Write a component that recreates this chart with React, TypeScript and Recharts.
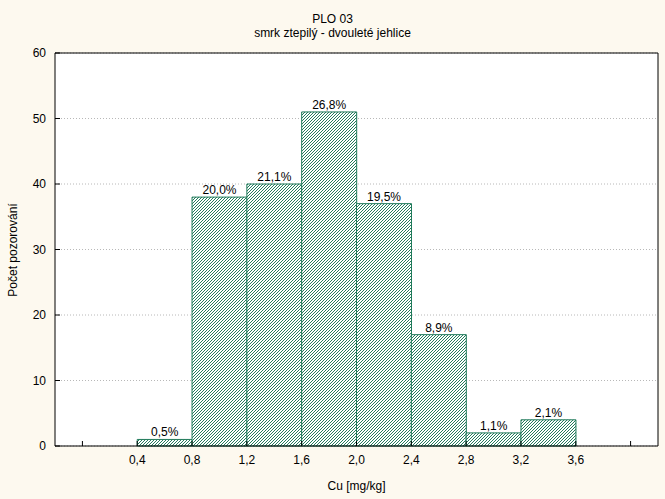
import React from "react";
import {
  Bar,
  CartesianGrid,
  ComposedChart,
  LabelList,
  XAxis,
  YAxis,
} from "recharts";

// histogram bins (lower edge), counts and % labels
const binStart = [0.4, 0.8, 1.2, 1.6, 2.0, 2.4, 2.8, 3.2];
const counts = [1, 38, 40, 51, 37, 17, 2, 4];
const pct = [0.5, 20.0, 21.1, 26.8, 19.5, 8.9, 1.1, 2.1];

const xTicks = [0, 0.4, 0.8, 1.2, 1.6, 2.0, 2.4, 2.8, 3.2, 3.6, 4.0];
const yTicks = [0, 10, 20, 30, 40, 50, 60];

const BIN = 0.4;
const GREEN = "#1f7a5a";
const HATCH = "#237c5c";
const BG = "#fdf9ef";
const FONT = "'Liberation Sans', Arial, sans-serif";

const rows = binStart.map((s, i) => ({
  x: s + BIN / 2,
  count: counts[i],
  label: pct[i].toFixed(1).replace(".", ",") + "%",
}));

const fmtX = (v: number) =>
  v >= 0.39 && v <= 3.61 ? v.toFixed(1).replace(".", ",") : "";

const tickStyle = { fill: "#000", fontSize: 12, fontFamily: FONT };

// 3px pixel hatch, "/" direction, 1px dark per row
const hatchPx = [0, 1, 2].map((y) => ({ x: 2 - y, y }));

export default function App() {
  return (
    <div
      style={{
        position: "absolute",
        left: 0,
        top: 0,
        width: 665,
        height: 499,
        background: BG,
        fontFamily: FONT,
        color: "#000",
      }}
    >
      <div style={{ position: "absolute", top: 12, left: 0, width: 665, textAlign: "center", fontSize: 12 }}>
        PLO 03
      </div>
      <div style={{ position: "absolute", top: 26, left: 0, width: 665, textAlign: "center", fontSize: 12 }}>
        smrk ztepilý - dvouleté jehlice
      </div>
      <div
        style={{
          position: "absolute",
          left: 13,
          top: 250,
          transform: "translate(-50%, -50%) rotate(-90deg)",
          whiteSpace: "nowrap",
          fontSize: 12,
        }}
      >
        Počet pozorování
      </div>
      <div style={{ position: "absolute", top: 479, left: 55, width: 603, textAlign: "center", fontSize: 12 }}>
        Cu [mg/kg]
      </div>
      <ComposedChart
        width={665}
        height={499}
        data={rows}
        margin={{ top: 52, right: 6, bottom: 0, left: 0 }}
        barCategoryGap={0}
        barGap={0}
        style={{ position: "absolute", left: 0, top: 0 }}
      >
        <defs>
          <pattern id="hatch" width={3} height={3} patternUnits="userSpaceOnUse">
            <rect width={3} height={3} fill="#fff" />
            {hatchPx.map((p, i) => (
              <rect key={i} x={p.x} y={p.y} width={1} height={1} fill={HATCH} shapeRendering="crispEdges" />
            ))}
          </pattern>
        </defs>
        <CartesianGrid
          fill="#fff"
          vertical={false}
          stroke="#b8b8b8"
          strokeDasharray="1 2"
          yAxisId="l"
        />
        <XAxis
          dataKey="x"
          type="number"
          domain={[-0.2, 4.2]}
          ticks={xTicks}
          allowDataOverflow
          tickFormatter={fmtX}
          tick={tickStyle}
          tickSize={-5}
          tickMargin={14}
          height={53}
          stroke="#000"
          interval={0}
        />
        <XAxis
          xAxisId="top"
          orientation="top"
          dataKey="x"
          type="number"
          domain={[-0.2, 4.2]}
          ticks={xTicks}
          allowDataOverflow
          tick={false}
          tickSize={-5}
          height={1}
          stroke="#000"
          interval={0}
        />
        <YAxis
          yAxisId="l"
          domain={[0, 60]}
          ticks={yTicks}
          tick={tickStyle}
          tickSize={-5}
          tickMargin={14}
          width={55}
          stroke="#000"
          interval={0}
        />
        <YAxis
          yAxisId="r"
          orientation="right"
          domain={[0, 60]}
          ticks={yTicks}
          tick={false}
          tickSize={-5}
          width={1}
          stroke="#000"
          interval={0}
        />
        <Bar
          dataKey="count"
          yAxisId="l"
          fill="url(#hatch)"
          stroke={GREEN}
          strokeWidth={1}
          isAnimationActive={false}
        >
          <LabelList
            dataKey="label"
            position="top"
            offset={3}
            style={{ fill: "#000", fontSize: 12, fontFamily: FONT }}
          />
        </Bar>
      </ComposedChart>
    </div>
  );
}
